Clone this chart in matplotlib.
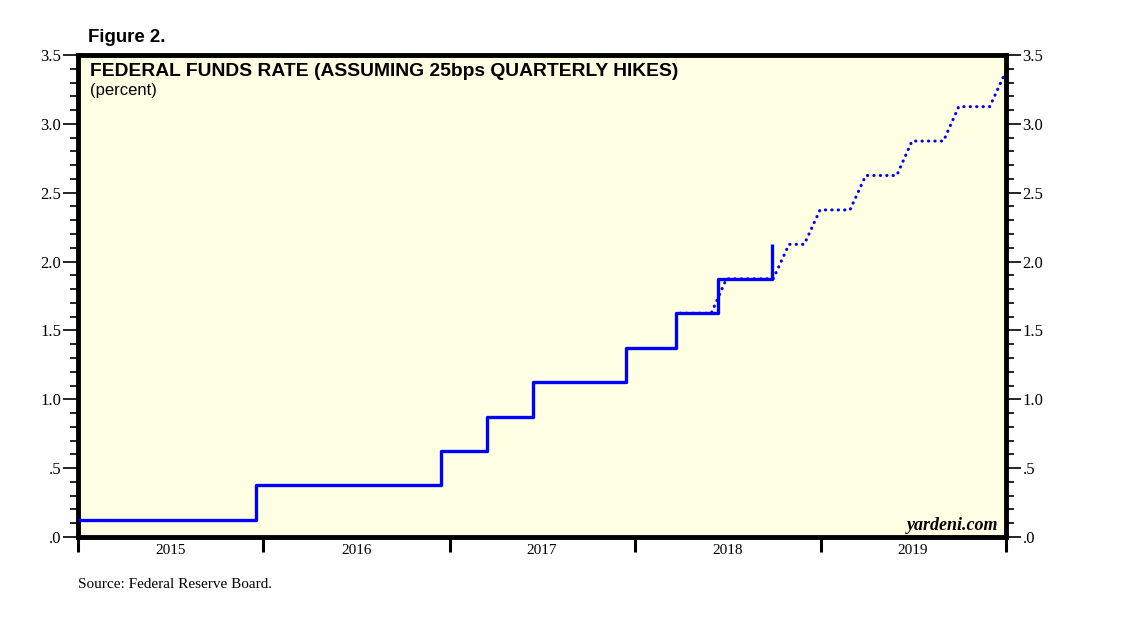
import numpy as np
import pandas as pd
import matplotlib
matplotlib.use("Agg")
import matplotlib.pyplot as plt
from matplotlib.ticker import MultipleLocator, FuncFormatter

# actual target rate (midpoint), change dates
actual_dates = ['2015-01-01', '2015-12-17', '2016-12-15', '2017-03-16', '2017-06-15',
                '2017-12-14', '2018-03-22', '2018-06-14', '2018-09-27', '2018-09-28']
actual_vals = [0.125, 0.375, 0.625, 0.875, 1.125, 1.375, 1.625, 1.875, 2.125, 2.125]

# projection assuming 25bps quarterly hikes (month-end points)
proj_dates = ['2018-03-31', '2018-04-30', '2018-05-31', '2018-06-30', '2018-07-31',
              '2018-08-31', '2018-09-30', '2018-10-31', '2018-11-30', '2018-12-31',
              '2019-01-31', '2019-02-28', '2019-03-31', '2019-04-30', '2019-05-31',
              '2019-06-30', '2019-07-31', '2019-08-31', '2019-09-30', '2019-10-31',
              '2019-11-30', '2019-12-31']
proj_vals = [1.625, 1.625, 1.625, 1.875, 1.875, 1.875, 1.875, 2.125, 2.125, 2.375,
             2.375, 2.375, 2.625, 2.625, 2.625, 2.875, 2.875, 2.875, 3.125, 3.125,
             3.125, 3.375]

years = [2015, 2016, 2017, 2018, 2019]

serif = 'Liberation Serif'
sans = 'Liberation Sans'
W, H = 1138, 621

fig = plt.figure(figsize=(W / 100, H / 100), dpi=100)
ax = fig.add_axes([78 / W, 1 - 537 / H, 928 / W, 482 / H])
ax.set_facecolor('#ffffe3')

ax.plot(pd.to_datetime(proj_dates), proj_vals, color='#0000ff', lw=2.2,
        linestyle=(0, (0.1, 2.0)), dash_capstyle='round', zorder=2)
ax.plot(pd.to_datetime(actual_dates), actual_vals, color='#0000ff', lw=2.4,
        drawstyle='steps-post', zorder=3, solid_capstyle='butt')

ax.set_xlim(pd.Timestamp('2015-01-01'), pd.Timestamp('2020-01-01'))
ax.set_ylim(0, 3.5)

# year boundaries as ticks, labels in the middle of each year
ax.set_xticks([pd.Timestamp(f'{y}-01-01') for y in years + [2020]])
ax.set_xticklabels([])
ax.set_xticks([pd.Timestamp(f'{y}-07-02') for y in years], minor=True)
ax.set_xticklabels([str(y) for y in years], minor=True, fontfamily=serif, fontsize=11)
ax.tick_params(axis='x', which='major', direction='out', length=11, width=2.2)
ax.tick_params(axis='x', which='minor', length=0, pad=5)

ax.yaxis.set_major_locator(MultipleLocator(0.5))
ax.yaxis.set_minor_locator(MultipleLocator(0.1))
fmt = FuncFormatter(lambda v, p: ('%.1f' % v).lstrip('0') if v < 1 else '%.1f' % v)
ax.yaxis.set_major_formatter(fmt)
ax.tick_params(axis='y', which='both', left=True, right=True, labelleft=True,
               labelright=True, direction='out')
ax.tick_params(axis='y', which='major', length=11, width=1.2, pad=1, labelsize=12)
ax.tick_params(axis='y', which='minor', length=6, width=1.2)
for lab in ax.get_yticklabels():
    lab.set_fontfamily(serif)

for s in ax.spines.values():
    s.set_linewidth(3.5)

fig.text(90 / W, 1 - 71 / H, 'FEDERAL FUNDS RATE (ASSUMING 25bps QUARTERLY HIKES)',
         ha='left', va='center', fontsize=13.9, fontweight='bold', fontfamily=sans)
fig.text(90 / W, 1 - 90 / H, '(percent)', ha='left', va='center',
         fontsize=12, fontfamily=sans)
fig.text(998 / W, 1 - 525 / H, 'yardeni.com', ha='right', va='center',
         fontsize=13, fontstyle='italic', fontweight='bold', fontfamily=serif)

fig.text(88 / W, 1 - 37 / H, 'Figure 2.', ha='left', va='center', fontsize=13.4,
         fontweight='bold', fontfamily=sans)
fig.text(78 / W, 1 - 585 / H, 'Source: Federal Reserve Board.', ha='left',
         va='center', fontsize=11, fontfamily=serif)

fig.savefig('out.png', dpi=100)
